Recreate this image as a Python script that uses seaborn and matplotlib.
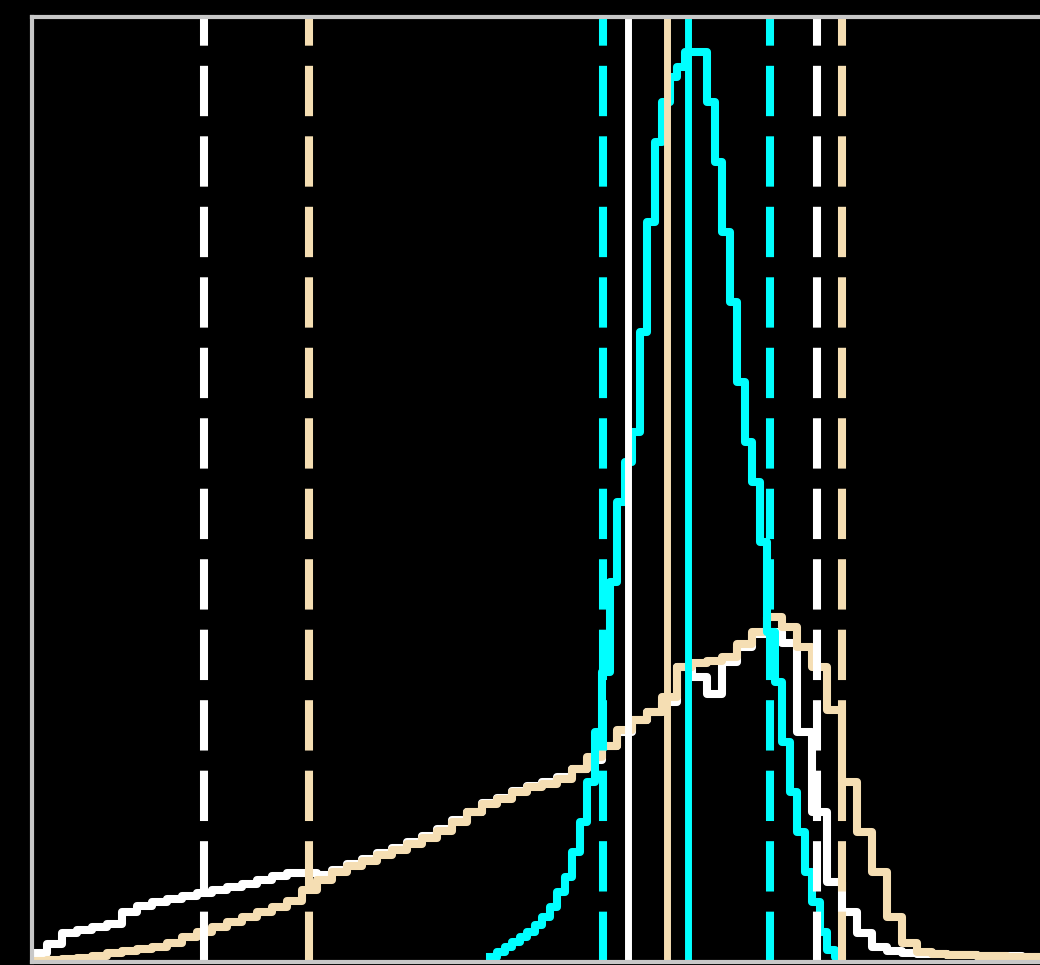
import numpy as np
import pandas as pd
import matplotlib
matplotlib.use("Agg")
import matplotlib.pyplot as plt
import seaborn as sns

# shared bins for the two broad distributions
edges_broad = np.arange(0, 105.1, 1.5)
white_counts = [0.9, 1.8, 2.9, 3.2, 3.5, 3.8, 5.0, 5.6, 6.0, 6.3, 6.6, 6.9, 7.2, 7.5,
                7.8, 8.2, 8.6, 8.9, 8.9, 8.7, 9.2, 9.8, 10.3, 10.9, 11.4, 12.0, 12.6,
                13.3, 14.2, 15.0, 15.9, 16.4, 17.1, 17.6, 18.0, 18.5, 19.3, 20.2, 21.6,
                23.0, 24.2, 25.0, 26.0, 29.5, 28.5, 26.8, 30.0, 31.5, 32.8, 33.0, 31.9,
                23.0, 15.0, 8.0, 5.0, 2.9, 1.5, 1.1, 0.9, 0.8, 0.8, 0.7, 0.7, 0.6, 0.6,
                0.6, 0.5, 0.5, 0.5, 0.5]
wheat_counts = [0.1, 0.2, 0.3, 0.4, 0.6, 0.9, 1.1, 1.3, 1.5, 1.9, 2.5, 3.0, 3.5, 4.0,
                4.5, 5.0, 5.5, 6.1, 7.2, 8.2, 9.0, 9.6, 10.1, 10.7, 11.2, 11.8, 12.4,
                13.1, 14.0, 15.0, 15.8, 16.3, 17.0, 17.5, 17.8, 18.3, 19.3, 20.5, 21.6,
                23.2, 24.2, 25.0, 26.5, 29.5, 29.9, 30.1, 30.5, 31.8, 33.0, 34.5, 33.5,
                31.5, 29.5, 25.2, 18.0, 13.0, 9.0, 4.5, 1.9, 1.0, 0.8, 0.7, 0.7, 0.6,
                0.6, 0.5, 0.5, 0.5, 0.4, 0.4]

# narrow distribution, finer bins
edges_narrow = np.arange(45.75, 81.01, 0.75)
cyan_counts = [0.5, 1.0, 1.5, 2.0, 2.5, 3.0, 3.7, 4.5, 5.5, 7.0, 8.5, 11.0, 14.0,
               18.0, 23.0, 29.0, 38.0, 46.0, 50.0, 53.0, 63.0, 74.0, 82.0, 86.0,
               88.5, 89.5, 91.0, 91.0, 91.0, 86.0, 80.0, 73.0, 66.0, 58.0, 52.0,
               48.0, 42.0, 33.0, 28.0, 22.0, 17.0, 13.0, 9.0, 6.0, 3.0, 1.2, 0.5]

# median (solid) and percentile (dashed) markers
white_median, white_lo, white_hi = 59.6, 17.2, 78.5
wheat_median, wheat_lo, wheat_hi = 63.5, 27.7, 81.0
cyan_median, cyan_lo, cyan_hi = 65.6, 57.1, 73.8

colors = {"white": "#ffffff", "wheat": "#f5deb3", "cyan": "#00ffff"}

def centers(e):
    return (e[:-1] + e[1:]) / 2

df_white = pd.DataFrame({"x": centers(edges_broad), "w": white_counts})
df_wheat = pd.DataFrame({"x": centers(edges_broad), "w": wheat_counts})
df_cyan = pd.DataFrame({"x": centers(edges_narrow), "w": cyan_counts})

fig = plt.figure(figsize=(10.4, 9.65), dpi=100, facecolor="black")
ax = fig.add_axes([32 / 1040, 3 / 965, 1.0, 945 / 965])
ax.set_facecolor("black")

lw = 5.8
dash = (6.25, 2.5)

for d, e, name in [(df_white, edges_broad, "white"), (df_wheat, edges_broad, "wheat"),
                   (df_cyan, edges_narrow, "cyan")]:
    sns.histplot(data=d, x="x", weights="w", bins=list(e), element="step",
                 fill=False, color=colors[name], linewidth=lw, ax=ax)

for name, (med, lo, hi) in {"white": (white_median, white_lo, white_hi),
                            "wheat": (wheat_median, wheat_lo, wheat_hi),
                            "cyan": (cyan_median, cyan_lo, cyan_hi)}.items():
    ax.axvline(med, color=colors[name], linewidth=5)
    for v in (lo, hi):
        ax.axvline(v, color=colors[name], linewidth=lw, dashes=dash)

ax.set_xlim(0, 104)
ax.set_ylim(0, 94.5)
ax.set_xticks([])
ax.set_yticks([])
ax.set_xlabel("")
ax.set_ylabel("")
for s in ax.spines.values():
    s.set_color("#c8c8c8")
    s.set_linewidth(3)

fig.savefig("out.png", dpi=100, facecolor="black")
